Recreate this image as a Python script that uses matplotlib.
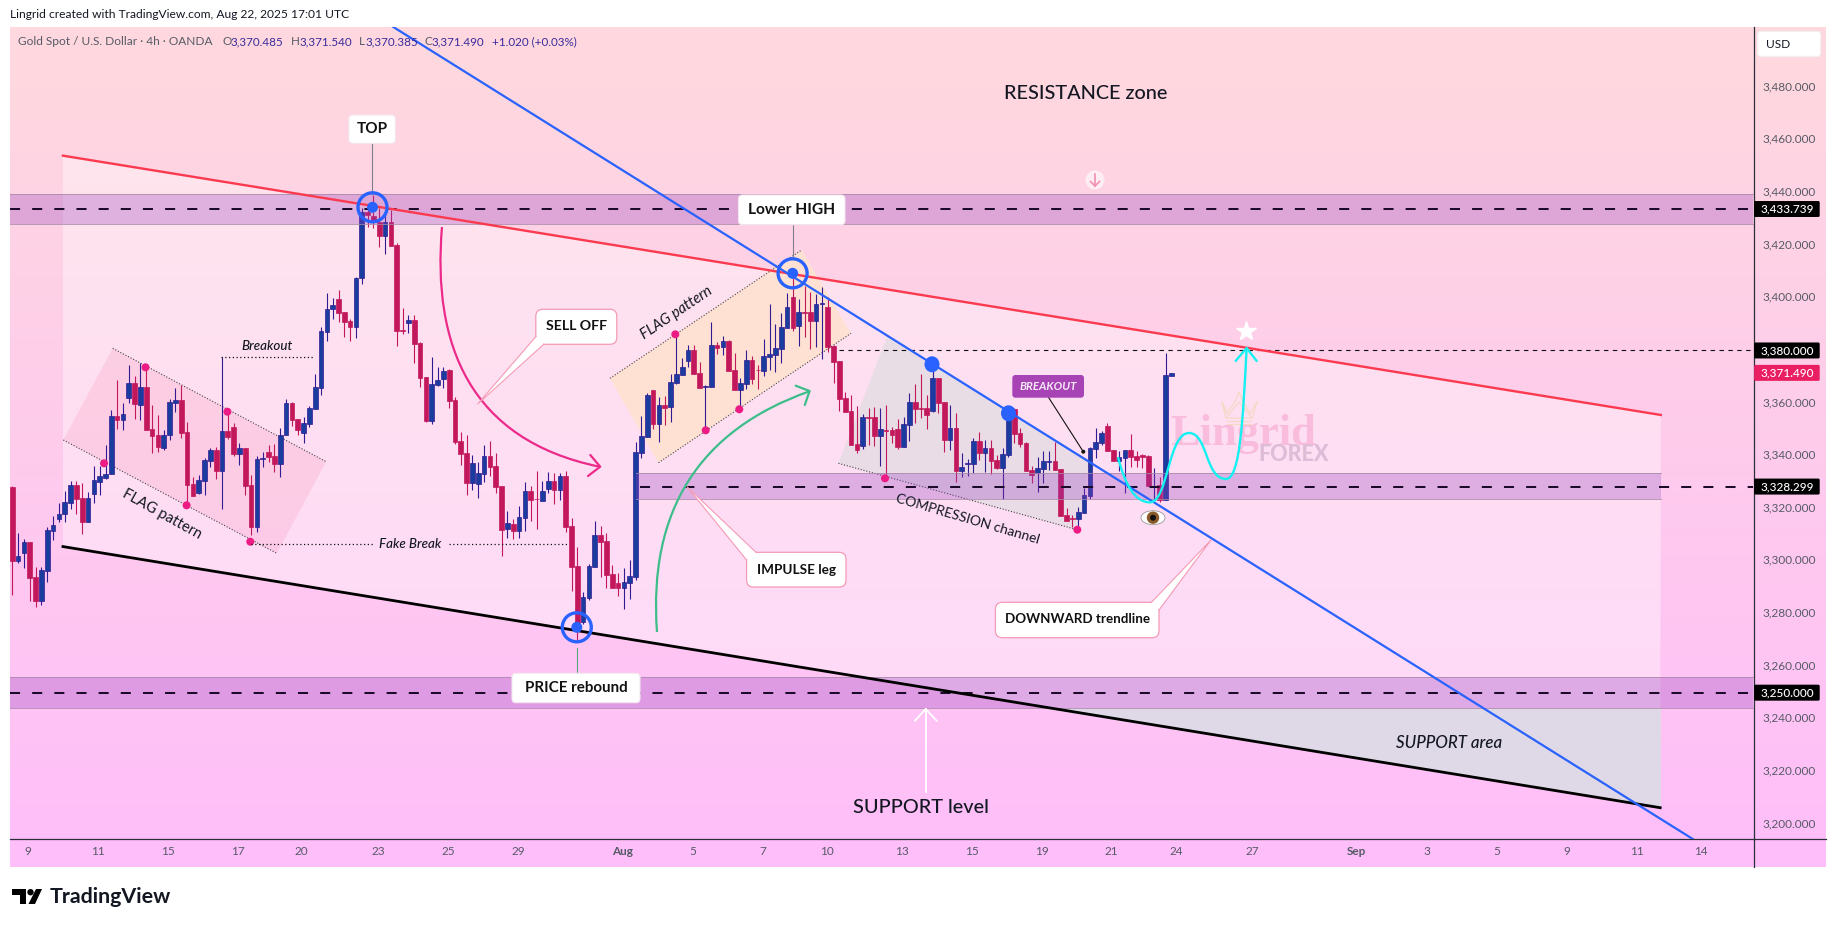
import numpy as np
import matplotlib
matplotlib.use("Agg")
import matplotlib.pyplot as plt
from matplotlib.patches import Polygon, Rectangle, Circle, Ellipse, FancyBboxPatch, PathPatch
from matplotlib.path import Path
from matplotlib.transforms import ScaledTranslation

plt.rcParams['font.family'] = ['Lato', 'DejaVu Sans']

# candles, 4h bars
opens = [
    3328.2, 3300.2, 3302.9, 3307.3, 3294.0, 3285.0, 3296.4, 3311.6, 3315.8, 3317.8,
    3322.2, 3328.9, 3324.0, 3315.0, 3325.6, 3330.2, 3331.7, 3333.2, 3355.0, 3353.7,
    3362.1, 3367.5, 3359.4, 3366.1, 3350.2, 3347.9, 3343.1, 3347.7, 3360.2, 3361.2,
    3349.1, 3329.3, 3326.0, 3330.6, 3338.2, 3342.1, 3334.4, 3349.3, 3350.8, 3340.7,
    3342.8, 3328.9, 3313.1, 3338.9, 3341.4, 3339.9, 3336.9, 3347.7, 3360.0, 3353.8,
    3348.8, 3352.2, 3357.9, 3365.9, 3387.1, 3395.6, 3399.4, 3394.6, 3391.2, 3389.0,
    3407.4, 3432.6, 3431.0, 3428.9, 3423.6, 3428.7, 3420.1, 3387.8, 3390.5, 3391.6,
    3382.8, 3369.9, 3353.3, 3366.9, 3369.2, 3372.6, 3361.2, 3345.6, 3341.1, 3329.8,
    3329.4, 3333.2, 3339.9, 3336.1, 3328.5, 3312.1, 3314.1, 3311.5, 3316.5, 3326.5,
    3323.6, 3322.9, 3327.4, 3330.3, 3327.0, 3332.3, 3313.3, 3298.1, 3277.0, 3286.1,
    3297.9, 3309.9, 3307.5, 3295.0, 3291.6, 3289.9, 3291.8, 3294.1, 3341.2, 3347.2,
    3365.0, 3352.1, 3359.2, 3358.6, 3367.8, 3370.8, 3376.1, 3380.2, 3371.4, 3366.2,
    3366.2, 3382.1, 3381.4, 3383.6, 3372.6, 3365.0, 3367.4, 3376.4, 3372.6, 3372.2,
    3377.6, 3378.4, 3380.7, 3388.7, 3400.2, 3389.4, 3394.6, 3394.5, 3391.3, 3397.7,
    3396.6, 3381.7, 3376.0, 3361.8, 3357.0, 3344.5, 3343.7, 3354.6, 3354.7, 3347.6,
    3349.7, 3349.8, 3350.2, 3343.3, 3351.7, 3360.4, 3358.0, 3358.1, 3357.0, 3369.4,
    3360.3, 3346.0, 3350.5, 3334.3, 3336.9, 3337.0, 3345.5, 3341.2, 3342.8, 3338.4,
    3335.2, 3340.3, 3357.6, 3348.5, 3344.9, 3334.6, 3333.5, 3335.0, 3337.8, 3338.0,
    3335.0, 3317.5, 3316.2, 3316.1, 3318.4, 3324.7, 3342.7, 3345.0, 3351.3, 3342.1,
    3338.1, 3339.2, 3342.1, 3339.9, 3340.3, 3339.9, 3328.4, 3328.9, 3323.2, 3370.485,
]
highs = [
    3328.7, 3310.6, 3308.3, 3307.3, 3297.7, 3297.7, 3313.1, 3317.0, 3322.0, 3326.7,
    3330.4, 3330.4, 3329.6, 3326.1, 3336.1, 3336.1, 3344.0, 3357.4, 3368.8, 3359.9,
    3374.5, 3370.3, 3375.1, 3373.6, 3359.3, 3355.5, 3349.8, 3361.5, 3365.8, 3366.7,
    3352.9, 3332.0, 3332.7, 3339.0, 3342.8, 3343.5, 3377.7, 3356.9, 3352.3, 3344.7,
    3342.8, 3332.7, 3340.0, 3341.6, 3344.1, 3344.5, 3350.6, 3361.6, 3360.6, 3353.8,
    3354.6, 3358.9, 3371.1, 3388.8, 3401.7, 3399.8, 3403.0, 3394.6, 3391.8, 3407.8,
    3434.0, 3435.3, 3439.1, 3434.0, 3432.1, 3433.4, 3420.7, 3396.1, 3393.5, 3393.5,
    3383.1, 3370.0, 3377.4, 3373.8, 3373.6, 3372.8, 3362.4, 3349.0, 3347.9, 3340.3,
    3337.6, 3344.0, 3345.6, 3340.9, 3328.5, 3319.0, 3315.9, 3320.9, 3329.9, 3328.5,
    3334.2, 3330.5, 3333.7, 3333.3, 3333.5, 3334.2, 3316.2, 3305.2, 3288.4, 3298.9,
    3315.2, 3313.3, 3310.6, 3298.5, 3295.6, 3297.3, 3300.4, 3345.3, 3355.1, 3363.7,
    3365.0, 3362.4, 3362.7, 3370.9, 3386.1, 3377.1, 3382.1, 3382.1, 3375.6, 3366.9,
    3390.8, 3383.3, 3385.5, 3384.0, 3378.9, 3369.4, 3380.2, 3377.9, 3374.6, 3384.2,
    3397.5, 3390.0, 3394.1, 3401.9, 3407.5, 3399.4, 3404.5, 3402.3, 3401.5, 3404.0,
    3400.3, 3382.1, 3376.0, 3364.1, 3363.1, 3358.9, 3355.9, 3358.3, 3358.4, 3358.0,
    3359.3, 3350.8, 3354.0, 3354.6, 3363.9, 3367.3, 3371.1, 3363.1, 3372.6, 3369.7,
    3360.5, 3359.3, 3356.4, 3340.9, 3338.8, 3346.8, 3349.0, 3346.0, 3346.0, 3340.3,
    3342.8, 3358.1, 3358.1, 3350.6, 3345.3, 3336.1, 3339.5, 3341.8, 3341.8, 3345.3,
    3335.0, 3320.3, 3317.5, 3320.7, 3327.6, 3343.2, 3350.4, 3349.4, 3352.3, 3342.2,
    3341.8, 3342.2, 3348.3, 3341.9, 3340.7, 3340.2, 3335.2, 3332.0, 3378.9, 3371.54,
]
lows = [
    3287.1, 3299.4, 3297.4, 3285.0, 3282.7, 3283.4, 3292.2, 3308.0, 3314.9, 3314.9,
    3319.8, 3317.9, 3310.4, 3315.0, 3322.2, 3325.1, 3331.2, 3333.2, 3350.2, 3349.6,
    3360.1, 3354.0, 3353.6, 3349.6, 3341.2, 3341.5, 3342.0, 3346.0, 3356.8, 3346.9,
    3321.3, 3324.7, 3325.5, 3325.1, 3335.9, 3331.3, 3319.9, 3346.2, 3339.9, 3336.6,
    3325.1, 3309.9, 3311.2, 3335.9, 3337.8, 3334.0, 3332.1, 3347.7, 3351.3, 3347.9,
    3345.0, 3351.1, 3357.9, 3363.1, 3383.7, 3391.8, 3391.0, 3385.2, 3383.7, 3384.9,
    3405.3, 3426.8, 3426.4, 3419.2, 3416.7, 3419.8, 3381.8, 3386.3, 3386.7, 3375.2,
    3366.2, 3352.9, 3351.9, 3366.5, 3365.6, 3358.3, 3344.5, 3336.5, 3325.1, 3327.0,
    3324.1, 3329.9, 3332.3, 3326.0, 3301.9, 3308.8, 3308.5, 3308.8, 3311.4, 3315.2,
    3312.2, 3322.9, 3326.0, 3321.7, 3323.2, 3311.0, 3288.6, 3270.0, 3276.1, 3285.2,
    3297.9, 3294.1, 3289.9, 3289.9, 3286.7, 3281.9, 3285.5, 3292.8, 3339.3, 3347.2,
    3350.2, 3345.2, 3351.7, 3352.9, 3367.3, 3370.8, 3373.7, 3371.2, 3365.9, 3349.8,
    3366.2, 3378.5, 3378.3, 3372.3, 3365.0, 3357.7, 3365.3, 3367.4, 3365.5, 3370.4,
    3372.6, 3371.9, 3375.1, 3388.7, 3387.5, 3381.7, 3385.2, 3380.6, 3381.2, 3376.8,
    3379.4, 3367.8, 3357.1, 3356.6, 3344.1, 3341.2, 3342.7, 3344.1, 3343.7, 3336.1,
    3331.6, 3344.7, 3342.5, 3343.3, 3345.7, 3352.3, 3354.4, 3350.3, 3356.6, 3356.1,
    3341.4, 3342.2, 3330.0, 3331.8, 3332.3, 3333.6, 3338.4, 3333.9, 3333.1, 3335.0,
    3323.6, 3339.5, 3344.9, 3343.4, 3334.2, 3329.5, 3326.3, 3329.5, 3334.6, 3334.6,
    3317.2, 3315.2, 3312.8, 3313.1, 3318.4, 3323.6, 3339.0, 3344.1, 3341.9, 3338.0,
    3334.3, 3325.8, 3335.9, 3335.9, 3335.4, 3328.5, 3323.2, 3322.3, 3323.2, 3370.385,
]
closes = [
    3300.2, 3302.0, 3307.3, 3293.7, 3285.0, 3296.6, 3311.7, 3313.6, 3317.8, 3322.3,
    3328.9, 3323.6, 3315.0, 3324.0, 3330.7, 3332.3, 3333.1, 3355.0, 3353.7, 3355.8,
    3367.5, 3359.8, 3366.1, 3349.8, 3347.5, 3343.5, 3347.9, 3360.4, 3361.2, 3348.8,
    3328.9, 3324.7, 3330.8, 3338.4, 3342.1, 3334.4, 3349.3, 3347.1, 3340.7, 3342.8,
    3328.6, 3313.1, 3338.6, 3339.2, 3339.7, 3336.9, 3347.8, 3360.0, 3353.6, 3349.8,
    3352.3, 3358.0, 3366.0, 3387.3, 3395.6, 3397.1, 3394.4, 3391.0, 3389.0, 3407.4,
    3432.7, 3431.5, 3429.3, 3423.6, 3428.7, 3419.8, 3387.5, 3387.4, 3391.6, 3382.6,
    3369.7, 3353.2, 3367.1, 3368.8, 3372.2, 3360.9, 3345.2, 3340.7, 3329.8, 3337.3,
    3333.5, 3339.9, 3335.9, 3328.3, 3311.9, 3314.3, 3311.5, 3316.6, 3326.5, 3323.2,
    3323.4, 3326.5, 3330.3, 3327.0, 3332.3, 3313.1, 3297.9, 3276.6, 3286.2, 3298.0,
    3309.8, 3307.4, 3294.7, 3289.9, 3289.9, 3291.9, 3294.2, 3341.3, 3347.5, 3363.0,
    3352.1, 3359.2, 3358.1, 3367.9, 3370.9, 3373.7, 3380.2, 3371.2, 3365.9, 3366.6,
    3382.1, 3380.8, 3383.6, 3372.3, 3365.0, 3367.5, 3376.3, 3369.3, 3372.4, 3377.8,
    3378.5, 3380.8, 3388.8, 3396.4, 3388.7, 3394.5, 3394.3, 3391.3, 3397.7, 3397.9,
    3381.3, 3375.7, 3361.6, 3356.6, 3344.1, 3342.2, 3354.7, 3354.4, 3347.6, 3350.1,
    3349.4, 3347.9, 3343.3, 3351.9, 3360.4, 3357.8, 3357.8, 3355.5, 3369.4, 3360.0,
    3346.0, 3350.5, 3334.3, 3335.7, 3337.1, 3345.5, 3341.2, 3342.8, 3338.0, 3335.3,
    3340.6, 3356.2, 3348.3, 3344.5, 3334.2, 3332.8, 3335.2, 3337.9, 3338.0, 3334.6,
    3317.2, 3315.2, 3316.0, 3318.5, 3325.0, 3342.8, 3345.1, 3348.5, 3341.9, 3338.0,
    3339.5, 3342.1, 3339.6, 3338.4, 3339.5, 3328.5, 3328.6, 3323.2, 3370.7, 3371.49,
]

price_ticks = [3200, 3220, 3240, 3260, 3280, 3300, 3320, 3340, 3360, 3400, 3420, 3440, 3460, 3480]
time_tick_bars = [2.7, 14.7, 26.8, 38.7, 49.7, 62.8, 74.8, 86.8, 104.8, 116.9, 128.9, 139.9,
                  152.8, 164.8, 176.8, 188.7, 199.8, 212.8, 230.8, 242.9, 254.9, 266.8, 278.9, 289.9]
time_tick_labels = ["9", "11", "15", "17", "20", "23", "25", "29", "Aug", "5", "7", "10",
                    "13", "15", "19", "21", "24", "27", "Sep", "3", "5", "9", "11", "14"]
level_prices = [3433.739, 3380.0, 3328.299, 3250.0]
last_price = 3371.49

# trend lines and zones as (bar, price)
red_line = [(8.7, 3454.0), (283.0, 3355.5)]
black_line = [(8.7, 3305.5), (282.9, 3206.3)]
blue_line = [(65.4, 3502.9), (288.5, 3194.4)]
zones = [(-0.4, 298.9, 3428.2, 3439.3), (107.0, 283.0, 3323.5, 3333.3), (-0.4, 298.9, 3244.3, 3255.9)]

BAR_X0, BAR_STEP = 12.3, 5.825
AX_LEFT, AX_RIGHT, AX_TOP, AX_BOTTOM = 10.0, 1753.6, 27.0, 839.3
PANE_RIGHT, PANE_BOTTOM = 1825.7, 866.7
W, H = 1835, 927
Y_MAX, Y_MIN = 3502.88, 3194.30

UP_BODY, UP_WICK, DOWN_COLOR = "#1a3c9e", "#311b92", "#c2185b"
TREND_BLUE, DOT_PINK = "#2962ff", "#ec1c84"
GREY_TEXT, PURPLE_TEXT = "#565a66", "#3a2a9c"


def bar_px(bar):
    return BAR_X0 + BAR_STEP * bar


def price_px(price):
    return AX_TOP + (Y_MAX - price) / (Y_MAX - Y_MIN) * (AX_BOTTOM - AX_TOP)


def rounded_box(ax, x0, y0, x1, y1, face, edge, radius=4, lw=0.8, zorder=5):
    box = FancyBboxPatch((x0, y0), x1 - x0, y1 - y0,
                         boxstyle=f"round,pad=0,rounding_size={radius}",
                         facecolor=face, edgecolor=edge, linewidth=lw, zorder=zorder)
    ax.add_patch(box)


def callout(ax, box, tail, text, center, size):
    rounded_box(ax, *box, "white", "#f59ab5", radius=7, lw=0.9)
    ax.add_patch(Polygon(tail, closed=True, facecolor="white", edgecolor="none", zorder=5.1))
    ax.plot([tail[1][0], tail[0][0], tail[2][0]], [tail[1][1], tail[0][1], tail[2][1]],
            color="#f59ab5", lw=0.8, zorder=5.2)
    ax.text(center[0], center[1], text, ha="center", va="center", fontsize=size,
            fontweight="bold", color="#111111", zorder=6)


def curve(ax, start, segments, color, lw):
    verts = [start]
    codes = [Path.MOVETO]
    for seg in segments:
        verts.extend(seg)
        codes.extend([Path.CURVE4] * 3)
    ax.add_patch(PathPatch(Path(verts, codes), facecolor="none", edgecolor=color, lw=lw, zorder=4))


def arrow_head(ax, tip, arm1, arm2, color, lw):
    ax.plot([arm1[0], tip[0], arm2[0]], [arm1[1], tip[1], arm2[1]], color=color, lw=lw,
            solid_capstyle="round", zorder=4)


def target_ring(ax, x, y):
    ax.add_patch(Circle((x, y), 14.5, facecolor="none", edgecolor=TREND_BLUE, lw=2.4, zorder=4))
    ax.add_patch(Circle((x, y), 5.5, facecolor=TREND_BLUE, edgecolor="none", zorder=4))


fig = plt.figure(figsize=(W / 100, H / 100), dpi=100, facecolor="white")

# background layer, pixel coordinates
ax_bg = fig.add_axes([0, 0, 1, 1], zorder=0)
ax_bg.set_xlim(0, W)
ax_bg.set_ylim(H, 0)
ax_bg.axis("off")
top_col = np.array([255, 217, 222]) / 255
bot_col = np.array([254, 190, 250]) / 255
t = np.linspace(0, 1, 256)[:, None, None]
grad = top_col[None, None, :] * (1 - t) + bot_col[None, None, :] * t
ax_bg.imshow(grad, extent=(AX_LEFT, PANE_RIGHT, PANE_BOTTOM, AX_TOP), aspect="auto", zorder=0)
ax_bg.set_xlim(0, W)
ax_bg.set_ylim(H, 0)

# channel between red and black lines
channel = [(bar_px(red_line[0][0]), price_px(red_line[0][1])),
           (bar_px(red_line[1][0]), price_px(red_line[1][1])),
           (bar_px(black_line[1][0]), price_px(black_line[1][1])),
           (bar_px(black_line[0][0]), price_px(black_line[0][1]))]
ax_bg.add_patch(Polygon(channel, closed=True, facecolor="white", edgecolor="none", alpha=0.38, zorder=1))

# support area
ax_bg.add_patch(Polygon([(1041, 707.7), (1661, 707.7), (1661, 807.7)], closed=True,
                        facecolor="#dfd8e7", edgecolor="none", zorder=2))

# flag and compression boxes
ax_bg.add_patch(Polygon([(112.7, 348.3), (326.2, 461.7), (276.8, 553.3), (63.3, 440)], closed=True,
                        facecolor="#f06292", edgecolor="none", alpha=0.14, zorder=2))
ax_bg.add_patch(Polygon([(610, 378.3), (801.7, 250), (851, 333.3), (658.5, 462.7)], closed=True,
                        facecolor="#ffe2d2", edgecolor="none", alpha=0.95, zorder=2))
ax_bg.add_patch(Polygon([(838.4, 463.3), (887, 337), (1090, 461), (1078, 530)], closed=True,
                        facecolor="#d8dcdc", edgecolor="none", alpha=0.55, zorder=2))
for seg in [[(112.7, 348.3), (326.2, 461.7)], [(63.3, 440), (276.8, 553.3)],
            [(610, 378.3), (801.7, 250)], [(658.5, 462.7), (851, 333.3)],
            [(838.4, 463.3), (1078, 530)]]:
    ax_bg.plot([seg[0][0], seg[1][0]], [seg[0][1], seg[1][1]], color="#444444", lw=0.8,
               ls=(0, (1, 1.6)), zorder=3)

# watermark
ax_bg.text(1170, 445, "Lingrid", family="Liberation Serif", fontweight="bold", fontsize=32,
           color="#f9bcdc", ha="left", va="baseline", zorder=3)
ax_bg.text(1258, 454, "FOREX", fontweight="black", fontsize=15.5, color="#dcbcd6", ha="left",
           va="center", zorder=3)
for xs, ys in [([1222, 1227, 1235, 1239, 1243, 1250, 1257], [402, 413, 402, 392, 402, 413, 402]),
               ([1222, 1226, 1252, 1257], [402, 418, 418, 402]),
               ([1227, 1251], [421, 421]), ([1227, 1251], [424, 424]),
               ([1226, 1239, 1252], [418, 402, 418])]:
    ax_bg.plot(xs, ys, color="#f5d8c0", lw=0.8, zorder=3)

# main price axes
ax = fig.add_axes([AX_LEFT / W, 1 - AX_BOTTOM / H, (AX_RIGHT - AX_LEFT) / W, (AX_BOTTOM - AX_TOP) / H], zorder=1)
ax.patch.set_alpha(0)
ax.set_xlim((AX_LEFT - BAR_X0) / BAR_STEP, (AX_RIGHT - BAR_X0) / BAR_STEP)
ax.set_ylim(Y_MIN, Y_MAX)
for side in ["left", "top"]:
    ax.spines[side].set_visible(False)
for side in ["right", "bottom"]:
    ax.spines[side].set_color("#2a2e39")
    ax.spines[side].set_linewidth(0.9)

o = np.array(opens)
h = np.array(highs)
l = np.array(lows)
c = np.array(closes)
bars = np.arange(len(o))
up = c >= o

ax.vlines(bars[up], l[up], h[up], color=UP_WICK, lw=0.8, zorder=3)
ax.vlines(bars[~up], l[~up], h[~up], color=DOWN_COLOR, lw=0.8, zorder=3)
ax.bar(bars[up], (c - o)[up], bottom=o[up], width=0.8, color=UP_BODY, edgecolor=UP_WICK, linewidth=0.5, zorder=3.1)
ax.bar(bars[~up], (c - o)[~up], bottom=o[~up], width=0.8, color=DOWN_COLOR, edgecolor=DOWN_COLOR, linewidth=0.5, zorder=3.1)

for b0, b1, p0, p1 in zones:
    ax.add_patch(Rectangle((b0, p0), b1 - b0, p1 - p0, facecolor="#953fbc", edgecolor="none", alpha=0.3, zorder=4))
    ax.plot([b0, b1], [p0, p0], color="#a888a8", lw=0.7, alpha=0.8, zorder=4)
    ax.plot([b0, b1], [p1, p1], color="#a888a8", lw=0.7, alpha=0.8, zorder=4)

# horizontal levels
DASH = (0, (5, 6))
ax.plot([-0.4, 298.9], [3433.739, 3433.739], color="#1c0a2a", lw=1.45, ls=DASH, zorder=4.5)
ax.plot([107.8, 298.9], [3328.299, 3328.299], color="#1c0a2a", lw=1.45, ls=DASH, zorder=4.5)
ax.plot([-0.4, 298.9], [3250.0, 3250.0], color="#1c0a2a", lw=1.45, ls=DASH, zorder=4.5)
ax.plot([141.9, 298.9], [3380.0, 3380.0], color="#111111", lw=0.8, ls=(0, (4, 4)), zorder=4.5)

for line, color, lw in [(red_line, "#fb3a4f", 1.7), (black_line, "#000000", 2.0), (blue_line, TREND_BLUE, 1.6)]:
    ax.plot([line[0][0], line[1][0]], [line[0][1], line[1][1]], color=color, lw=lw, zorder=5)

ax.yaxis.tick_right()
ax.set_yticks(price_ticks)
ax.set_yticklabels([f"{p:,.3f}" for p in price_ticks], fontsize=8.5, color=GREY_TEXT)
ax.set_xticks(time_tick_bars)
ax.set_xticklabels(time_tick_labels, fontsize=8.5, color=GREY_TEXT)
ax.tick_params(axis="y", length=0, pad=6.2)
ax.tick_params(axis="x", length=0, pad=4.5)
for lab in ax.get_yticklabels():
    lab.set_transform(lab.get_transform() + ScaledTranslation(0, 1.2 / 72, fig.dpi_scale_trans))
for lab in ax.get_xticklabels():
    if lab.get_text() in ("Aug", "Sep"):
        lab.set_fontweight("bold")

# annotation layer, pixel coordinates
top = fig.add_axes([0, 0, 1, 1], zorder=2)
top.patch.set_alpha(0)
top.set_xlim(0, W)
top.set_ylim(H, 0)
top.axis("off")

top.plot([AX_RIGHT, AX_RIGHT], [AX_BOTTOM, PANE_BOTTOM], color="#2a2e39", lw=0.9)
top.plot([AX_RIGHT, PANE_RIGHT], [AX_BOTTOM, AX_BOTTOM], color="#2a2e39", lw=0.9)

# header and legend
top.text(10, 14.7, "Lingrid created with TradingView.com, Aug 22, 2025 17:01 UTC", fontsize=8.65,
         color="#131722", va="center")
top.text(18, 41.7, "Gold Spot / U.S. Dollar · 4h · OANDA", fontsize=8.6, color=GREY_TEXT, va="center")
for lx, label, vx, value in [(222, "O", 230.5, "3,370.485"), (290.5, "H", 299.5, "3,371.540"),
                             (358.5, "L", 365.5, "3,370.385"), (424, "C", 432, "3,371.490")]:
    top.text(lx, 41.7, label, fontsize=8.4, color=GREY_TEXT, va="center")
    top.text(vx, 41.7, value, fontsize=8.4, color=PURPLE_TEXT, va="center")
top.text(491.5, 41.7, "+1.020 (+0.03%)", fontsize=8.4, color=PURPLE_TEXT, va="center")

# USD button
rounded_box(top, 1757.7, 31.4, 1820.5, 56.4, "white", "#f4f0f4", radius=3)
top.text(1766, 44.2, "USD", fontsize=8.6, color="#131722", va="center", zorder=6)

# price boxes
for price in level_prices:
    y = price_px(price)
    rounded_box(top, AX_RIGHT + 0.5, y - 8, 1819.7, y + 8, "black", "none", radius=1.5, lw=0, zorder=7)
    top.text(1787, y, f"{price:,.3f}", fontsize=8.5, fontweight="medium", color="white", ha="center", va="center", zorder=8)
y = price_px(last_price)
rounded_box(top, AX_RIGHT + 0.5, y - 8, 1819.7, y + 8, "#e91e63", "none", radius=1.5, lw=0, zorder=7)
top.text(1787, y, f"{last_price:,.3f}", fontsize=8.5, fontweight="medium", color="white", ha="center", va="center", zorder=8)

# labelled points
for box, text, center, stem, size in [((348.8, 115, 395.4, 143.3), "TOP", (372, 129.3), ((372, 144), (372, 192)), 11),
                                      ((738.5, 195, 845, 224.7), "Lower HIGH", (792, 210), ((792.6, 225), (792.6, 256)), 11.2)]:
    top.plot([stem[0][0], stem[1][0]], [stem[0][1], stem[1][1]], color="#7d7f8a", lw=0.8, zorder=4)
    rounded_box(top, *box, "white", "#f3e6ee", radius=4)
    top.text(center[0], center[1], text, ha="center", va="center", fontsize=size, fontweight="bold",
             color="#111111", zorder=6)
top.plot([577, 577], [648, 673], color="#55a87c", lw=0.8, zorder=4)
rounded_box(top, 512, 673.3, 640, 702.7, "white", "#f3e6ee", radius=4)
top.text(576, 688.5, "PRICE rebound", ha="center", va="center", fontsize=10.9, fontweight="bold",
         color="#111111", zorder=6)

target_ring(top, 372.5, 207.3)
target_ring(top, 792.6, 273.3)
target_ring(top, 576.8, 627.3)
for x, y in [(932, 364.3), (1008.5, 413.3)]:
    top.add_patch(Ellipse((x, y), 15, 16, facecolor=TREND_BLUE, edgecolor="none", zorder=6))

# pink markers
for x, y in [(145.5, 367.3), (227.4, 411.7), (104, 463.3), (186.6, 505.3), (250.3, 541.7),
             (675.3, 334.3), (705.7, 430.3), (739.3, 409.3), (885, 478.3), (1077.3, 529.7)]:
    top.add_patch(Circle((x, y), 4, facecolor=DOT_PINK, edgecolor="none", zorder=4))

# callouts
callout(top, (535.8, 309.3, 616.8, 344.3), [(477.7, 404), (535.8, 336.7), (543.7, 344.3)], "SELL OFF", (576.5, 326), 10.2)
callout(top, (746.6, 552.3, 846, 587), [(687, 486.7), (746.6, 560), (756, 552.3)], "IMPULSE leg", (796, 569.5), 9.7)
callout(top, (995.4, 602.3, 1159, 637.7), [(1211, 540), (1151.5, 602.3), (1159, 610)], "DOWNWARD trendline", (1077, 619), 9.6)

# breakout tag
top.plot([1048.3, 1083.3], [397, 451.7], color="#111111", lw=0.8, zorder=4)
top.add_patch(Circle((1083.3, 451.7), 2, facecolor="#111111", edgecolor="none", zorder=4))
rounded_box(top, 1012.3, 375, 1084, 397.7, "#a843b5", "none", radius=3, lw=0, zorder=5)
top.text(1048, 386.2, "BREAKOUT", ha="center", va="center", fontsize=8.2, fontweight="bold", style="italic",
         color="#f6e9f7", zorder=6)

# free text
top.text(1085.5, 93.6, "RESISTANCE zone", ha="center", va="center", fontsize=14.3, fontweight="medium", color="#131722")
top.text(921, 807.5, "SUPPORT level", ha="center", va="center", fontsize=14.3, fontweight="medium", color="#131722")
top.text(1449, 743, "SUPPORT area", ha="center", va="center", fontsize=12.2, style="italic", fontweight="medium", color="#131722")
top.text(267, 345.7, "Breakout", ha="center", va="center", fontsize=9.6, style="italic", fontweight="medium", color="#131722")
top.text(410, 544, "Fake Break", ha="center", va="center", fontsize=9.6, style="italic", fontweight="medium", color="#131722")
top.text(162, 514, "FLAG pattern", ha="center", va="center", rotation=-29, rotation_mode="anchor", fontsize=10.6, color="#131722")
top.text(677, 313, "FLAG pattern", ha="center", va="center", rotation=34, rotation_mode="anchor", fontsize=10.6, style="italic", color="#131722")
top.text(968, 519, "COMPRESSION channel", ha="center", va="center", rotation=-16.3, rotation_mode="anchor", fontsize=10, color="#131722")

DOTTED = (0, (1, 2))
for xs, ys in [((221.4, 314.4), (356.7, 356.7)), ((250.7, 373.7), (544.3, 544.3)), ((448.8, 569.4), (544.3, 544.3))]:
    top.plot(xs, ys, color="#111111", lw=0.9, ls=DOTTED, zorder=4)

# sell off and impulse curves
curve(top, (442, 227), [[(432, 345), (470, 440), (599.5, 466.7)]], "#ec2a8a", 1.6)
arrow_head(top, (600.2, 466.7), (590.3, 455), (588, 476), "#ec2a8a", 1.6)
curve(top, (657, 632), [[(648, 510), (700, 430), (809, 391.5)]], "#3dbd8a", 1.6)
arrow_head(top, (809.6, 391), (795.7, 385.7), (804.8, 405), "#3dbd8a", 1.6)

# projected path
curve(top, (1118, 457), [[(1125, 485), (1135, 502.3), (1150, 502.3)],
                         [(1168, 502.3), (1168, 433), (1189, 433)],
                         [(1208, 433), (1205, 479), (1226, 479)],
                         [(1240, 479), (1243, 420), (1246.6, 348)]], "#14f1f1", 1.7)
arrow_head(top, (1246.6, 348), (1235.6, 361), (1256.7, 361), "#14f1f1", 1.7)

# star, eye, small arrow marker, support arrow
top.plot([1245.8], [331], marker="*", ms=15, color="white", mec="white", zorder=6)
top.add_patch(Ellipse((1153, 517.7), 24, 14, facecolor="white", edgecolor="#999999", lw=0.6, zorder=6))
top.add_patch(Circle((1153, 517.7), 6.2, facecolor="#8a5a2b", edgecolor="none", zorder=6.1))
top.add_patch(Circle((1153, 517.7), 3, facecolor="#111111", edgecolor="none", zorder=6.2))
top.add_patch(Circle((1095, 180), 9.5, facecolor="white", edgecolor="none", alpha=0.6, zorder=6))
top.plot([1095, 1095], [174, 186], color="#f48fb1", lw=1.2, zorder=6.1)
top.plot([1090.5, 1095, 1099.5], [181.5, 186, 181.5], color="#f48fb1", lw=1.2, zorder=6.1)
top.plot([925.6, 925.6], [792, 709], color="white", lw=1.3, zorder=6)
top.plot([915, 925.6, 936.7], [720.7, 709, 720.7], color="white", lw=1.3, zorder=6)

# TradingView logo
top.add_patch(Polygon([(12, 889), (26, 889), (26, 904), (20, 904), (20, 895), (12, 895)], closed=True,
                      facecolor="black", edgecolor="none"))
top.add_patch(Circle((30.5, 892.2), 3.2, facecolor="black", edgecolor="none"))
top.add_patch(Polygon([(36, 889), (42, 889), (35, 904), (28.5, 904)], closed=True, facecolor="black", edgecolor="none"))
top.text(50, 897, "TradingView", fontsize=15.4, fontweight="bold", color="#131722", va="center")

fig.savefig("out.png", dpi=100, facecolor="white")
plt.close(fig)
